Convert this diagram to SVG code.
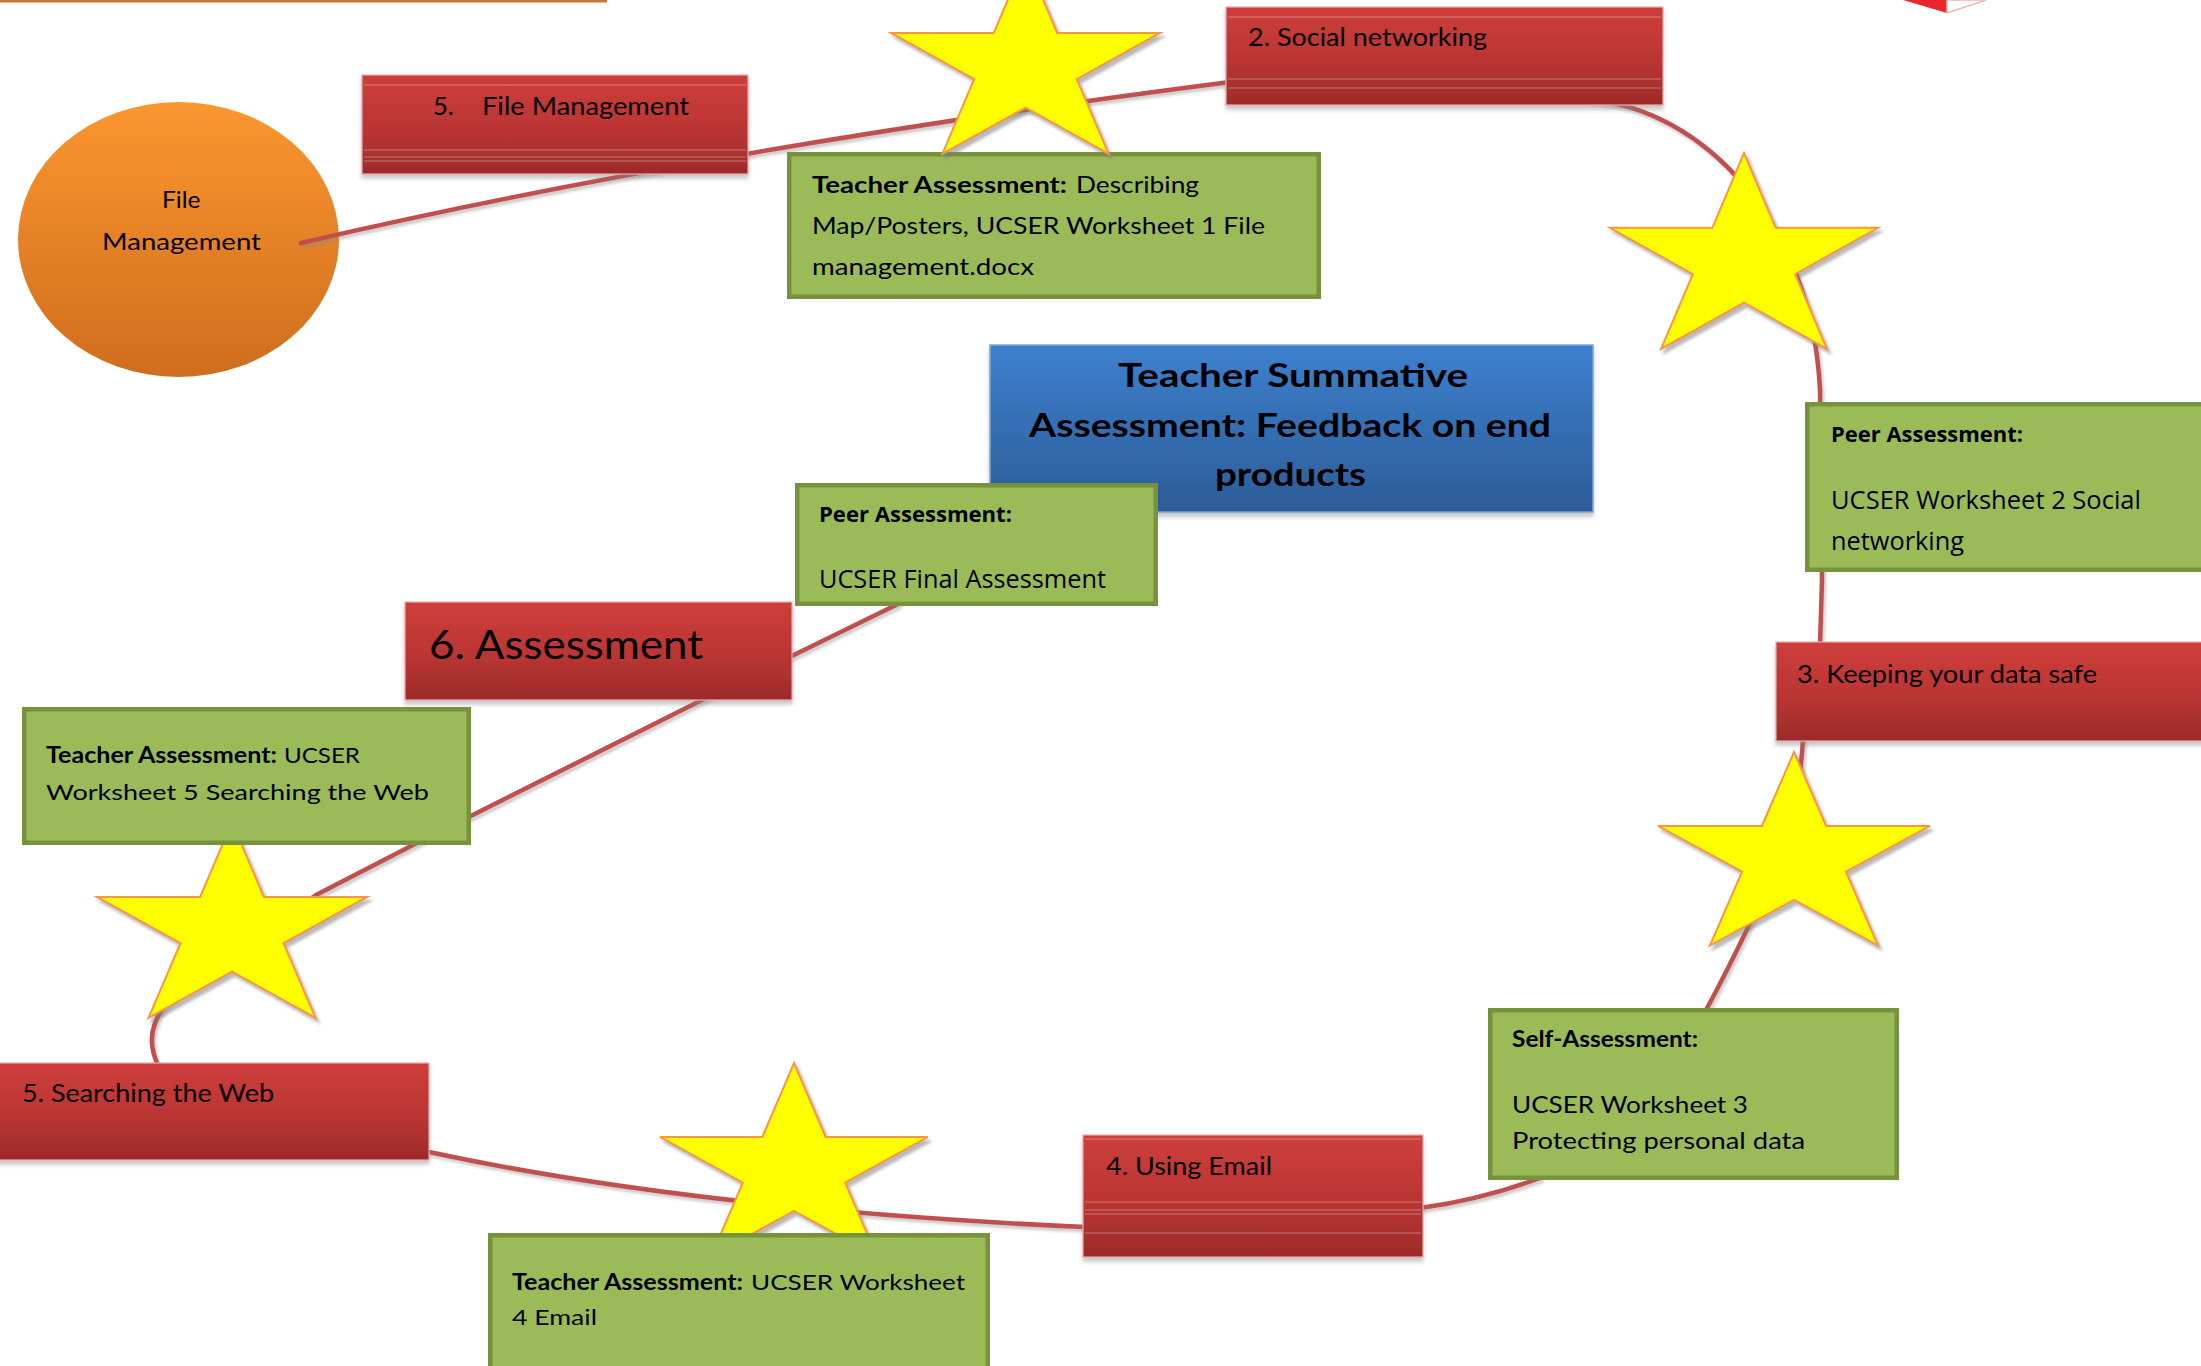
<svg xmlns="http://www.w3.org/2000/svg" width="2201" height="1366" viewBox="0 0 2201 1366">
<defs>
  <linearGradient id="gRed" x1="0" y1="0" x2="0" y2="1">
    <stop offset="0" stop-color="#CE3E3B"/>
    <stop offset="0.55" stop-color="#BA3533"/>
    <stop offset="1" stop-color="#9C2B29"/>
  </linearGradient>
  <linearGradient id="gBlue" x1="0" y1="0" x2="0" y2="1">
    <stop offset="0" stop-color="#3D80CE"/>
    <stop offset="1" stop-color="#2C5C97"/>
  </linearGradient>
  <linearGradient id="gOrange" x1="0" y1="0" x2="0" y2="1">
    <stop offset="0" stop-color="#FB972F"/>
    <stop offset="1" stop-color="#CF6D1D"/>
  </linearGradient>
  <path id="star" vector-effect="non-scaling-stroke" d="M0,-1 L0.2245,-0.309 L0.951,-0.309 L0.363,0.118 L0.588,0.809 L0,0.382 L-0.588,0.809 L-0.363,0.118 L-0.951,-0.309 L-0.2245,-0.309 Z"/>
  <filter id="sh" x="-10%" y="-10%" width="130%" height="130%">
    <feDropShadow dx="3" dy="4" stdDeviation="1.5" flood-color="#808080" flood-opacity="0.55"/>
  </filter>
  <filter id="boxsh" x="-5%" y="-10%" width="110%" height="130%">
    <feDropShadow dx="0" dy="4" stdDeviation="2" flood-color="#808080" flood-opacity="0.45"/>
  </filter>
  <filter id="linesh" x="-5%" y="-5%" width="110%" height="110%">
    <feDropShadow dx="2" dy="3" stdDeviation="1.5" flood-color="#8a8a8a" flood-opacity="0.45"/>
  </filter>
</defs>
<style>
  .red { fill: url(#gRed); stroke: #E9AEAD; stroke-width: 1.2; }
  .hl { stroke: #ffffff; stroke-opacity: 0.35; stroke-width: 1.2; }
  .green { fill: #9BBB59; stroke: #76923C; stroke-width: 4.5; }
  .blue { fill: url(#gBlue); stroke: #7FA6D8; stroke-width: 1.5; }
  .star { fill: #FFFF00; stroke: #F79646; stroke-width: 2; }
  .conn { fill: none; stroke: #C0504D; stroke-width: 4.5; stroke-linecap: round; stroke-linejoin: round; }
  text { font-family: Lato, "Liberation Sans", sans-serif; fill: #000000; }
  .os { font-family: "Open Sans", "Liberation Sans", sans-serif; }
  .b { font-weight: 700; }
  .s26 { font-size: 25.5px; }
  .s23 { font-size: 23.3px; }
  .s22 { font-size: 22px; }
  .s41 { font-size: 41px; }
  .s33 { font-size: 32.5px; font-weight: 700; }
</style>

<rect width="2201" height="1366" fill="#ffffff"/>

<g id="n-top-line">
  <rect x="0" y="0" width="607" height="2.5" fill="#C9763A"/>
</g>

<g id="n-topright-shape">
  <polygon points="1903,0 1947,0 1947,13" fill="#E8262B"/>
  <polygon points="1947,0 1986,0 1947,13" fill="#ffffff" stroke="#F0B5B5" stroke-width="1.5"/>
</g>

<g id="n-file-ellipse">
  <ellipse cx="178.5" cy="239.5" rx="160.5" ry="137.5" fill="url(#gOrange)"/>
  <text class="s23" x="162" y="208" textLength="38.5" lengthAdjust="spacingAndGlyphs">File</text>
  <text class="s23" x="102" y="250" textLength="159" lengthAdjust="spacingAndGlyphs">Management</text>
</g>

<g id="connectors" filter="url(#linesh)">
  <path class="conn" d="M301,243 Q700,150 1230,82"/>
  <path class="conn" d="M1590,100 C1700,108 1812,220 1820,390 L1822,580 L1820,645"/>
  <path class="conn" d="M1803,738 C1800,820 1765,900 1705,1012"/>
  <path class="conn" d="M1540,1178 Q1480,1200 1420,1208"/>
  <path class="conn" d="M1085,1227 Q700,1210 429,1152"/>
  <path class="conn" d="M158,1065 C142,1032 158,1002 200,975 L316,895 L413,845 L700,701 L898,604"/>
</g>

<g id="n-file-management">
  <rect class="red" x="362" y="75" width="386" height="99" filter="url(#boxsh)"/>
  <line class="hl" x1="364" y1="85" x2="746" y2="85"/>
  <line class="hl" x1="364" y1="150" x2="746" y2="150"/>
  <line class="hl" x1="364" y1="157" x2="746" y2="157"/>
  <line class="hl" x1="364" y1="161" x2="746" y2="161"/>
  <text class="s26" y="115"><tspan x="433">5. </tspan><tspan x="482" textLength="207" lengthAdjust="spacingAndGlyphs">File Management</tspan></text>
</g>

<g id="n-social-networking">
  <rect class="red" x="1226" y="7" width="437" height="98" filter="url(#boxsh)"/>
  <line class="hl" x1="1228" y1="17" x2="1661" y2="17"/>
  <line class="hl" x1="1228" y1="79" x2="1661" y2="79"/>
  <line class="hl" x1="1228" y1="88" x2="1661" y2="88"/>
  <text class="s26" x="1248" y="46" textLength="239" lengthAdjust="spacingAndGlyphs">2. Social networking</text>
</g>

<g id="n-keeping-data-safe">
  <rect class="red" x="1776" y="642" width="440" height="99" filter="url(#boxsh)"/>
  <text class="s26" x="1797" y="683" textLength="300" lengthAdjust="spacingAndGlyphs">3. Keeping your data safe</text>
</g>

<g id="n-using-email">
  <rect class="red" x="1083" y="1135" width="340" height="122" filter="url(#boxsh)"/>
  <line class="hl" x1="1085" y1="1139" x2="1421" y2="1139"/>
  <line class="hl" x1="1085" y1="1202" x2="1421" y2="1202"/>
  <line class="hl" x1="1085" y1="1210" x2="1421" y2="1210"/>
  <line class="hl" x1="1085" y1="1214" x2="1421" y2="1214"/>
  <line class="hl" x1="1085" y1="1233" x2="1421" y2="1233"/>
  <text class="s26" x="1106" y="1175" textLength="166" lengthAdjust="spacingAndGlyphs">4. Using Email</text>
</g>

<g id="n-searching-web">
  <rect class="red" x="-5" y="1063" width="434" height="97" filter="url(#boxsh)"/>
  <text class="s26" x="22" y="1102" textLength="252" lengthAdjust="spacingAndGlyphs">5. Searching the Web</text>
</g>

<g id="n-assessment">
  <rect class="red" x="405" y="602" width="387" height="98" filter="url(#boxsh)"/>
  <text class="s41" x="429" y="659" textLength="274" lengthAdjust="spacingAndGlyphs">6. Assessment</text>
</g>

<g id="n-summative">
  <rect class="blue" x="990" y="345" width="603" height="167" filter="url(#boxsh)"/>
  <text class="s33" x="1118" y="387" textLength="350" lengthAdjust="spacingAndGlyphs">Teacher Summative</text>
  <text class="s33" x="1029" y="437" textLength="522" lengthAdjust="spacingAndGlyphs">Assessment: Feedback on end</text>
  <text class="s33" x="1215" y="486" textLength="151" lengthAdjust="spacingAndGlyphs">products</text>
</g>

<g id="n-ta-file">
  <rect class="green" x="789.25" y="154.25" width="529.5" height="142.5"/>
  <text class="s23 b" x="812" y="193" textLength="255" lengthAdjust="spacingAndGlyphs">Teacher Assessment:</text>
  <text class="s23" x="1076" y="193" textLength="123" lengthAdjust="spacingAndGlyphs">Describing</text>
  <text class="s23" x="812" y="234" textLength="453" lengthAdjust="spacingAndGlyphs">Map/Posters, UCSER Worksheet 1 File</text>
  <text class="s23" x="812" y="275" textLength="222" lengthAdjust="spacingAndGlyphs">management.docx</text>
</g>

<g id="n-peer-final">
  <rect class="green" x="797.25" y="485.25" width="358.5" height="118.5"/>
  <text class="os b" font-size="22" x="819" y="522" textLength="193" lengthAdjust="spacingAndGlyphs">Peer Assessment:</text>
  <text class="os" font-size="25" x="819" y="588" textLength="287" lengthAdjust="spacingAndGlyphs">UCSER Final Assessment</text>
</g>

<g id="n-peer-social">
  <rect class="green" x="1807.25" y="404.25" width="420" height="165.5"/>
  <text class="os b" font-size="22" x="1831" y="442" textLength="192" lengthAdjust="spacingAndGlyphs">Peer Assessment:</text>
  <text class="os" font-size="25" x="1831" y="509" textLength="310" lengthAdjust="spacingAndGlyphs">UCSER Worksheet 2 Social</text>
  <text class="os" font-size="25" x="1831" y="550" textLength="133" lengthAdjust="spacingAndGlyphs">networking</text>
</g>

<g id="n-self-assessment">
  <rect class="green" x="1490.25" y="1010.25" width="406.5" height="167.5"/>
  <text class="s22 b" x="1512" y="1047" textLength="186" lengthAdjust="spacingAndGlyphs">Self-Assessment:</text>
  <text class="s23" x="1512" y="1113" textLength="236" lengthAdjust="spacingAndGlyphs">UCSER Worksheet 3</text>
  <text class="s23" x="1512" y="1149" textLength="293" lengthAdjust="spacingAndGlyphs">Protecting personal data</text>
</g>

<g id="stars">
  <g id="n-star-1" filter="url(#sh)"><use href="#star" class="star" transform="translate(1025.5,66.4) scale(141.4,108.2)"/></g>
  <g id="n-star-2" filter="url(#sh)"><use href="#star" class="star" transform="translate(1744,261.3) scale(141,108.3)"/></g>
  <g id="n-star-3" filter="url(#sh)"><use href="#star" class="star" transform="translate(1794,859) scale(143,107)"/></g>
  <g id="n-star-4" filter="url(#sh)"><use href="#star" class="star" transform="translate(232,930.4) scale(142,108.2)"/></g>
  <g id="n-star-5" filter="url(#sh)"><use href="#star" class="star" transform="translate(794,1170) scale(141,107)"/></g>
</g>

<g id="n-ta-web">
  <rect class="green" x="24.25" y="709.25" width="444.5" height="133.5"/>
  <text class="s22 b" x="46" y="763" textLength="231" lengthAdjust="spacingAndGlyphs">Teacher Assessment:</text>
  <text class="s22" x="284" y="763" textLength="76" lengthAdjust="spacingAndGlyphs">UCSER</text>
  <text class="s22" x="46" y="800" textLength="383" lengthAdjust="spacingAndGlyphs">Worksheet 5 Searching the Web</text>
</g>

<g id="n-ta-email">
  <rect class="green" x="490.25" y="1235.25" width="497.5" height="160"/>
  <text class="s22 b" x="512" y="1290" textLength="231" lengthAdjust="spacingAndGlyphs">Teacher Assessment:</text>
  <text class="s22" x="751" y="1290" textLength="214" lengthAdjust="spacingAndGlyphs">UCSER Worksheet</text>
  <text class="s22" x="512" y="1325" textLength="85" lengthAdjust="spacingAndGlyphs">4 Email</text>
</g>
</svg>
